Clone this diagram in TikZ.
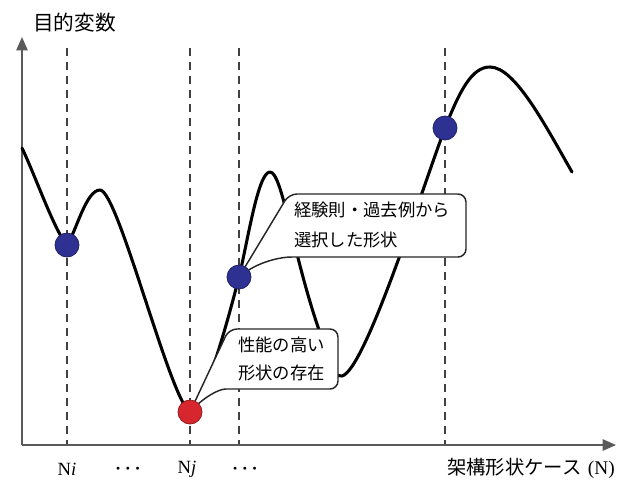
\documentclass[tikz,border=0pt]{standalone}
\usepackage{fontspec}
\newfontfamily\jp{Noto Sans CJK JP}
\newfontfamily\ser{Liberation Serif}
\usetikzlibrary{arrows.meta}
\definecolor{dotblue}{HTML}{2E3192}
\definecolor{dotred}{HTML}{D7262E}
\definecolor{axisgray}{HTML}{5A5A5A}
\begin{document}
\begin{tikzpicture}[x=0.75pt,y=-0.75pt,
  axis/.style={draw=axisgray,line width=1.2pt,-{Triangle[length=10pt,width=8.5pt]}},
  guide/.style={draw=black!75,line width=0.8pt,dash pattern=on 6pt off 4.5pt},
  curve/.style={draw=black,line width=2.3pt,line join=round,line cap=round},
  callout/.style={draw=black!85,line width=1.1pt,fill=white,rounded corners=6pt},
  bluedot/.style={circle,fill=dotblue,draw=dotblue!70!black,line width=0.6pt,minimum size=18pt,inner sep=0pt},
  reddot/.style={circle,fill=dotred,draw=dotred!70!black,line width=0.6pt,minimum size=18pt,inner sep=0pt},
  lbl/.style={inner sep=0pt,align=left,anchor=west},
  serlbl/.style={inner sep=0pt,font=\ser\fontsize{14}{16}\selectfont},
  dotlbl/.style={inner sep=0pt,font=\fontsize{15}{16}\selectfont\boldmath},
]
\useasboundingbox (0,0) rectangle (626,480);
% key points
\coordinate (o) at (22,445);
\coordinate (ytip) at (22,37);
\coordinate (xtip) at (616,445);
\coordinate (p1) at (67,245);
\coordinate (p2) at (190,412);
\coordinate (p3) at (239,277);
\coordinate (p4) at (445,128);
% guide lines
\foreach \gx/\nm in {67/a,190/b,239/c,445/d}{
  \coordinate (gt\nm) at (\gx,48);
  \coordinate (gb\nm) at (\gx,445);
  \draw[guide] (gt\nm) -- (gb\nm);
}
% axes
\draw[axis] (o) -- (ytip);
\draw[axis] (o) -- (xtip);
% objective curve
\draw[curve] (22,148) .. controls (35,175) and (55,232) .. (p1)
 .. controls (76,232) and (86,190) .. (100,190)
 .. controls (118,190) and (170,400) .. (p2)
 .. controls (205,405) and (228,320) .. (p3)
 .. controls (248,240) and (258,172) .. (270,172)
 .. controls (282,172) and (292,250) .. (318,327)
 .. controls (326,352) and (330,378) .. (342,376)
 .. controls (365,370) and (420,195) .. (p4)
 .. controls (460,90) and (472,67) .. (490,67)
 .. controls (515,67) and (545,125) .. (572,172);
% callouts
\draw[callout] (p3) -- (289,194) -- (466,194) -- (466,257) -- (300,257)
  .. controls (278,257) and (258,263) .. (p3) -- cycle;
\draw[callout] (p2) -- (229,329) -- (338,329) -- (338,389) -- (234,389)
  .. controls (218,389) and (204,398) .. (p2) -- cycle;
% dots
\node[bluedot] (dot1) at (p1) {};
\node[reddot] (dot2) at (p2) {};
\node[bluedot] (dot3) at (p3) {};
\node[bluedot] (dot4) at (p4) {};
% texts
\node[lbl,font=\jp\fontsize{13}{22.5}\selectfont] (c1text) at (294,225) {経験則・過去例から\\選択した形状};
\node[lbl,font=\jp\fontsize{13}{21}\selectfont] (c2text) at (238,359) {性能の高い\\形状の存在};
\node[lbl,font=\jp\fontsize{15.5}{18}\selectfont] (ylab) at (33,23) {目的変数};
\node[serlbl] (ni) at (67,469) {N\textit{i}};
\node[dotlbl] (dots1) at (128,469) {$\cdots$};
\node[serlbl] (nj) at (187,469) {N\textit{j}};
\node[dotlbl] (dots2) at (245,469) {$\cdots$};
\node[inner sep=0pt,anchor=east,font=\fontsize{14.5}{16}\selectfont] (xlab) at (615,468) {{\jp 架構形状ケース} {\ser (N)}};
\end{tikzpicture}
\end{document}
